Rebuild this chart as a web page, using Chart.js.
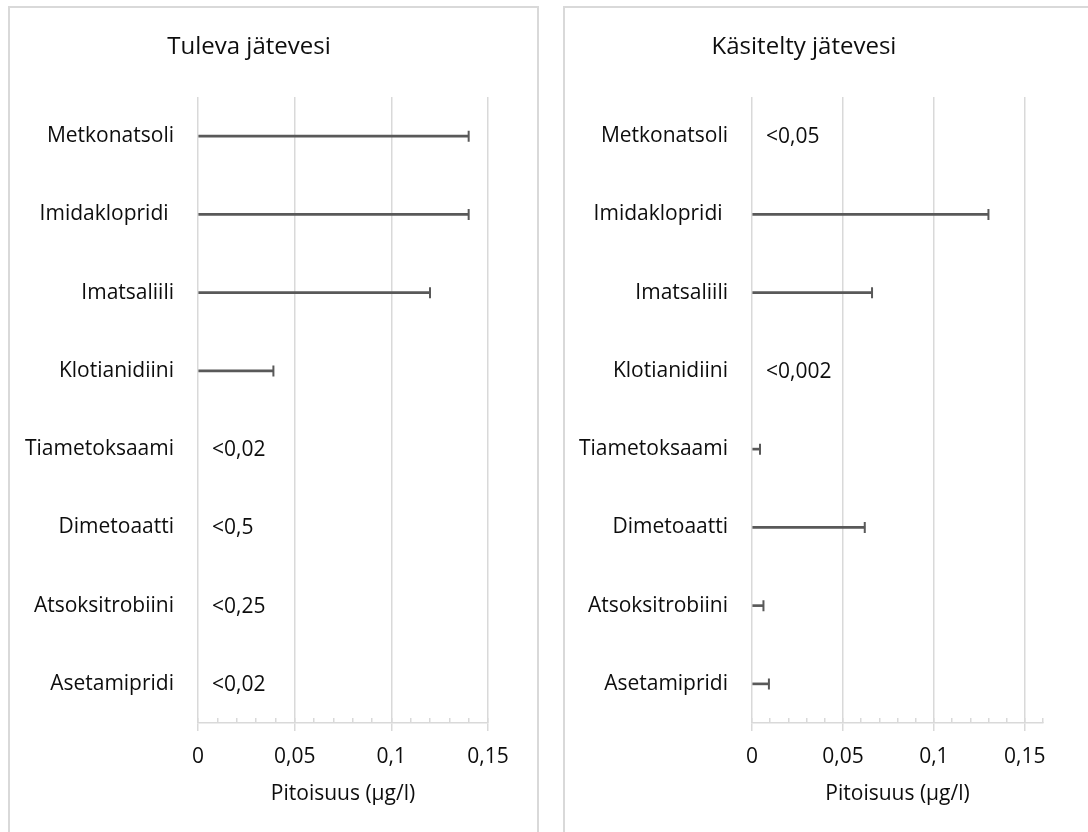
<!DOCTYPE html>
<html>
<head>
<meta charset="utf-8">
<script src="https://cdn.jsdelivr.net/npm/chart.js@4.4.1/dist/chart.umd.min.js"></script>
<style>
  html, body { margin: 0; padding: 0; background: #fff; overflow: hidden; width: 1088px; height: 832px; }
  .panel { position: absolute; top: 6px; width: 531px; height: 860px; border: 2px solid #d9d9d9; box-sizing: border-box; }
  #p1 { left: 8px; }
  #p2 { left: 563px; }
  canvas { position: absolute; left: 0; top: 0; }
</style>
</head>
<body>
<div class="panel" id="p1"><canvas id="c1" width="527" height="824"></canvas></div>
<div class="panel" id="p2"><canvas id="c2" width="527" height="824"></canvas></div>
<script>
// aineet (same order in both panels)
var categories = ['Metkonatsoli', 'Imidaklopridi ', 'Imatsaliili', 'Klotianidiini',
                  'Tiametoksaami', 'Dimetoaatti', 'Atsoksitrobiini', 'Asetamipridi'];

// tuleva jätevesi (µg/l), null = below detection limit
var inflowValues = [0.14, 0.14, 0.12, 0.039, null, null, null, null];
var inflowNotes = [null, null, null, null, '<0,02', '<0,5', '<0,25', '<0,02'];

// käsitelty jätevesi (µg/l)
var effluentValues = [null, 0.13, 0.066, null, 0.0044, 0.062, 0.0063, 0.0093];
var effluentNotes = ['<0,05', null, null, '<0,002', null, null, null, null];

var inflowMax = 0.15;
var effluentMax = 0.16;
var majorStep = 0.05;
var minorStep = 0.01;

var textColor = '#0d0d0d';
var gridColor = '#d9d9d9';
var barColor = '#595959';
var fontSize = 21;

Chart.defaults.font.family = '"Open Sans", sans-serif';

function notesPlugin(notes) {
  return {
    id: 'notes',
    afterDatasetsDraw: function(chart) {
      var ctx = chart.ctx;
      var x0 = chart.scales.x.getPixelForValue(0);
      ctx.save();
      ctx.font = fontSize + 'px "Open Sans"';
      ctx.fillStyle = textColor;
      ctx.textBaseline = 'middle';
      ctx.textAlign = 'left';
      notes.forEach(function(n, i) {
        if (n) ctx.fillText(n, x0 + 14, chart.scales.y.getPixelForValue(i) + 1);
      });
      ctx.restore();
    }
  };
}

function fmt(v) {
  return String(Math.round(v * 100) / 100).replace('.', ',');
}

function makeChart(canvasId, title, values, notes, max, yWidth) {
  return new Chart(document.getElementById(canvasId), {
    type: 'bar',
    data: {
      labels: categories,
      datasets: [{
        type: 'bar',
        data: values,
        backgroundColor: barColor,
        barThickness: 2,
        xAxisID: 'x',
        yAxisID: 'y',
        order: 2
      }, {
        type: 'line',
        data: values,
        showLine: false,
        pointStyle: 'line',
        pointRotation: 90,
        pointRadius: 5.5,
        pointHoverRadius: 5.5,
        pointBorderWidth: 2,
        pointBorderColor: barColor,
        pointBackgroundColor: barColor,
        xAxisID: 'x',
        yAxisID: 'y',
        order: 1
      }]
    },
    options: {
      indexAxis: 'y',
      responsive: false,
      devicePixelRatio: 1,
      animation: false,
      events: [],
      layout: { padding: { left: 0, right: 49, top: 0, bottom: 0 } },
      plugins: {
        legend: { display: false },
        tooltip: { enabled: false },
        title: {
          display: true,
          text: title,
          color: textColor,
          font: { size: 24, weight: 'normal' },
          padding: { top: 25, bottom: 35.2 }
        }
      },
      scales: {
        y: {
          type: 'category',
          grid: { display: false, drawTicks: false },
          border: { display: false },
          ticks: { padding: 24, color: textColor, font: { size: fontSize } },
          afterFit: function(s) { s.width = yWidth; }
        },
        x: {
          type: 'linear',
          position: 'bottom',
          weight: 1,
          min: 0,
          max: max,
          bounds: 'data',
          grid: { color: gridColor, lineWidth: 1.5, tickLength: 8, tickColor: gridColor },
          border: { color: gridColor, width: 1.5 },
          ticks: {
            stepSize: majorStep,
            padding: 13,
            color: textColor,
            font: { size: fontSize },
            callback: function(v) { return fmt(v); }
          },
          afterBuildTicks: function(s) {
            s.ticks = s.ticks.filter(function(t) {
              var r = t.value / majorStep;
              return Math.abs(r - Math.round(r)) < 1e-6;
            });
          },
          title: {
            display: true,
            text: 'Pitoisuus (µg/l)',
            color: textColor,
            font: { size: fontSize },
            padding: { top: 0, bottom: 25 }
          },
          afterFit: function(s) { s.height = 109; }
        },
        x2: {
          type: 'linear',
          position: 'bottom',
          weight: 0,
          min: 0,
          max: max,
          bounds: 'data',
          grid: { drawOnChartArea: false, color: gridColor, lineWidth: 1.5, tickLength: -5 },
          border: { display: false },
          ticks: { stepSize: minorStep, display: false },
          afterFit: function(s) { s.height = 0; }
        }
      }
    },
    plugins: [notesPlugin(notes)]
  });
}

makeChart('c1', 'Tuleva jätevesi', inflowValues, inflowNotes, inflowMax, 188);
makeChart('c2', 'Käsitelty jätevesi', effluentValues, effluentNotes, effluentMax, 187);
</script>
</body>
</html>
